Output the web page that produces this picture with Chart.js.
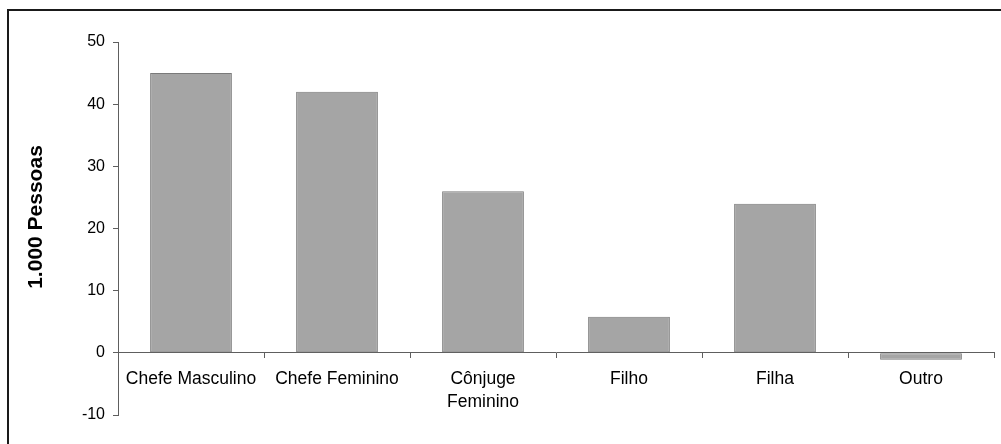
<!doctype html>
<html lang="pt">
<head>
<meta charset="utf-8">
<title>1.000 Pessoas</title>
<script src="https://cdn.jsdelivr.net/npm/chart.js@4.4.1/dist/chart.umd.min.js"></script>
<style>
  html, body { margin: 0; padding: 0; background: #fff; }
  #wrap { width: 1001px; height: 444px; }
</style>
</head>
<body>
<div id="wrap"><canvas id="bars" width="1001" height="444"></canvas></div>
<script>
// categorias e valores (mil pessoas)
var categorias = ['Chefe Masculino', 'Chefe Feminino', ['Cônjuge', 'Feminino'], 'Filho', 'Filha', 'Outro'];
var valores = [45, 42, 26, 5.8, 24, -1.1];
var yMin = -10, yMax = 50, yPasso = 10;
var tituloY = '1.000 Pessoas';

var eixoCor = '#5e5e5e';
var fonte = '"Liberation Sans", Arial, sans-serif';

// moldura externa (so topo e esquerda aparecem) + titulo do eixo y
var moldura = {
  id: 'moldura',
  beforeDraw: function(chart) {
    var c = chart.ctx;
    c.save();
    c.fillStyle = '#fff';
    c.fillRect(0, 0, chart.width, chart.height);
    c.strokeStyle = '#1a1a1a';
    c.lineWidth = 2;
    c.beginPath();
    c.moveTo(8, chart.height + 2);
    c.lineTo(8, 10);
    c.lineTo(chart.width + 2, 10);
    c.stroke();
    c.restore();
  },
  afterDraw: function(chart) {
    var c = chart.ctx;
    c.save();
    c.translate(36, 217);
    c.rotate(-Math.PI / 2);
    c.fillStyle = '#000';
    c.font = 'bold 21px ' + fonte;
    c.textAlign = 'center';
    c.textBaseline = 'middle';
    c.fillText(tituloY, 0, 0);
    c.restore();
  }
};

var ctx = document.getElementById('bars').getContext('2d');
new Chart(ctx, {
  type: 'bar',
  data: {
    labels: categorias,
    datasets: [{
      data: valores,
      backgroundColor: '#a5a5a5',
      borderColor: '#7a7a7a',
      borderWidth: 1,
      borderSkipped: false,
      barPercentage: 0.7,
      categoryPercentage: 0.8
    }]
  },
  options: {
    responsive: false,
    animation: false,
    layout: { padding: { left: 0, top: 42, right: 7, bottom: 29 } },
    plugins: { legend: { display: false }, tooltip: { enabled: false } },
    scales: {
      x: {
        position: { y: 0 },
        grid: { drawOnChartArea: false, tickLength: 5, color: eixoCor, lineWidth: 1 },
        border: { display: true, color: eixoCor, width: 1 },
        ticks: {
          color: '#000',
          padding: 10,
          maxRotation: 0,
          autoSkip: false,
          font: { family: fonte, size: 17.5, lineHeight: 1.3 }
        }
      },
      y: {
        min: yMin,
        max: yMax,
        afterFit: function(scale) { scale.width = 118; },
        grid: { drawOnChartArea: false, tickLength: 5, color: eixoCor },
        border: { display: true, color: eixoCor, width: 1 },
        ticks: {
          stepSize: yPasso,
          color: '#000',
          padding: 8,
          font: { family: fonte, size: 16 }
        }
      }
    }
  },
  plugins: [moldura]
});
</script>
</body>
</html>
